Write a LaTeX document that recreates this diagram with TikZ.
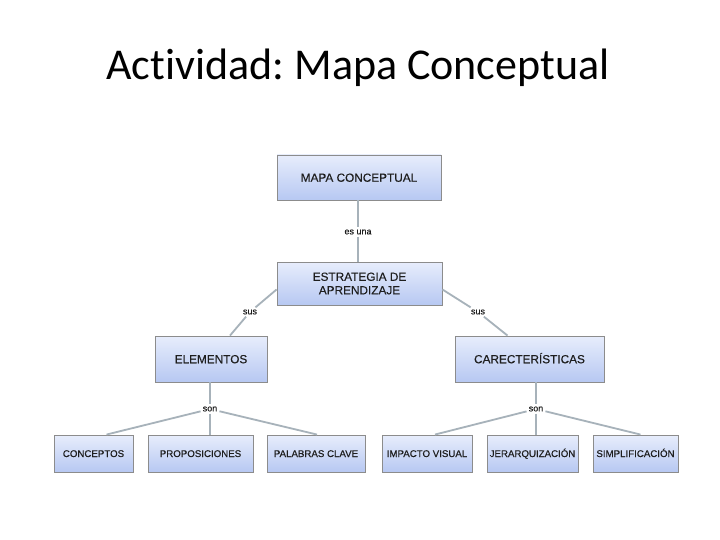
\documentclass[tikz,border=0pt]{standalone}
\usepackage{fontspec}
\setmainfont{Liberation Sans}[FakeBold=0.35]
\newfontfamily\titlefont{Carlito}[Ligatures=NoCommon]
\usetikzlibrary{calc}
\definecolor{boxtop}{HTML}{E7EDFC}
\definecolor{boxbot}{HTML}{B7C8F2}
\definecolor{boxline}{HTML}{8C8C8C}
\definecolor{conn}{HTML}{A7B2BA}
\definecolor{txt}{HTML}{1E1E1E}
\tikzset{
  cbox/.style={draw=boxline, line width=0.9pt, top color=boxtop, bottom color=boxbot,
    font=\fontsize{11.8}{13.5}\selectfont, text=txt, align=center, inner sep=0pt},
  oneline/.style={text height=8.5pt, text depth=0pt},
  smallbox/.style={cbox, font=\fontsize{9.7}{11}\selectfont, text height=7pt, text depth=0pt},
  lbl/.style={font=\fontsize{9}{10}\selectfont, text=txt, inner sep=2pt},
  conn/.style={draw=conn, line width=1.8pt}
}
\begin{document}
\frenchspacing
\begin{tikzpicture}[x=1pt,y=-1pt]
\useasboundingbox[fill=white] (0,0) rectangle (720,540);
\node[font=\titlefont\fontsize{44}{50}\selectfont] (title) at (358,68) {Actividad: Mapa Conceptual};

\node[cbox, oneline, minimum width=164, minimum height=45] (mapa) at (359,177.5) {MAPA CONCEPTUAL};
\node[cbox, minimum width=165, minimum height=43] (estr) at (359.5,283.5) {ESTRATEGIA DE\\APRENDIZAJE};
\node[cbox, oneline, minimum width=112, minimum height=46] (elem) at (211,359) {ELEMENTOS};
\node[cbox, oneline, minimum width=149, minimum height=46] (carac) at (529.5,359) {CARECTERÍSTICAS};

\node[smallbox, minimum width=79, minimum height=37] (conc) at (93.5,453.5) {CONCEPTOS};
\node[smallbox, minimum width=105, minimum height=37] (prop) at (200.5,453.5) {PROPOSICIONES};
\node[smallbox, minimum width=98, minimum height=37] (pal) at (316,453.5) {PALABRAS CLAVE};
\node[smallbox, minimum width=90, minimum height=37] (imp) at (427,453.5) {IMPACTO VISUAL};
\node[smallbox, minimum width=91, minimum height=37] (jer) at (532.5,453.5) {JERARQUIZACIÓN};
\node[smallbox, minimum width=85, minimum height=37] (sim) at (635.5,453.5) {SIMPLIFICACIÓN};

\node[lbl] (esuna) at (358,232) {es una};
\node[lbl] (sus1) at (250,312) {sus};
\node[lbl] (sus2) at (478,312) {sus};
\node[lbl] (son1) at (210,409) {son};
\node[lbl] (son2) at (536,409) {son};

\draw[conn] (mapa.south -| esuna) -- (esuna);
\draw[conn] (esuna) -- (esuna |- estr.north);
\draw[conn] ($(estr.west)+(0,6)$) -- (sus1);
\draw[conn] (sus1) -- ($(elem.north)+(19,0)$);
\draw[conn] ($(estr.east)+(0,6)$) -- (sus2);
\draw[conn] (sus2) -- ($(carac.north)+(-22,0)$);
\draw[conn] (elem.south -| son1) -- (son1);
\draw[conn] (son1) -- ($(conc.north)+(13,0)$);
\draw[conn] (son1) -- (son1 |- prop.north);
\draw[conn] (son1) -- ($(pal.north)+(1,0)$);
\draw[conn] (carac.south -| son2) -- (son2);
\draw[conn] (son2) -- ($(imp.north)+(8,0)$);
\draw[conn] (son2) -- (son2 |- jer.north);
\draw[conn] (son2) -- ($(sim.north)+(5,0)$);
\end{tikzpicture}
\end{document}
